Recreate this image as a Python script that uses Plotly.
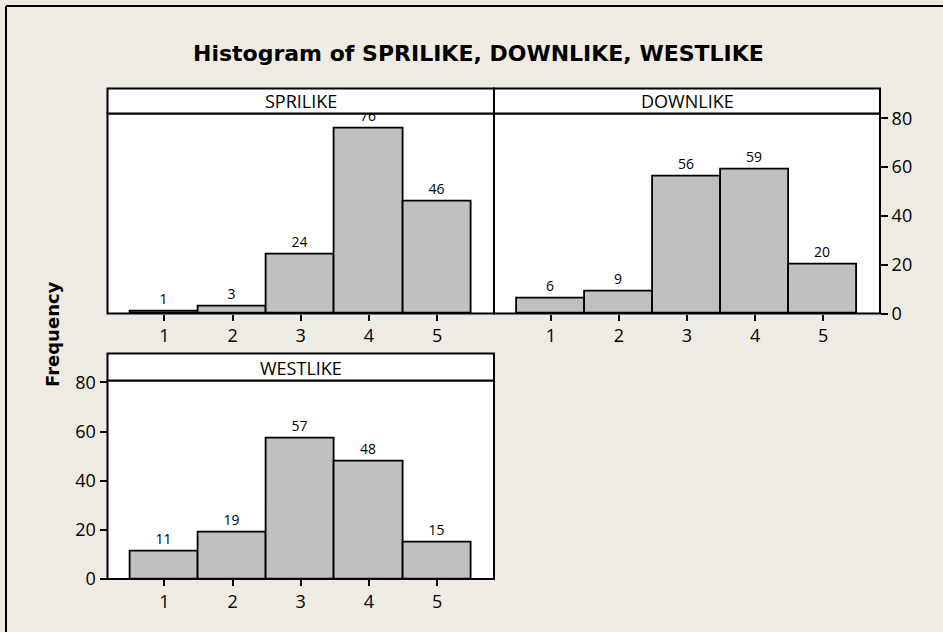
import plotly.graph_objects as go

# Histogram counts per response level
categories = [1, 2, 3, 4, 5]
sprilike = [1, 3, 24, 76, 46]
downlike = [6, 9, 56, 59, 20]
westlike = [11, 19, 57, 48, 15]
y_ticks = [0, 20, 40, 60, 80]
panel_names = ["SPRILIKE", "DOWNLIKE", "WESTLIKE"]
title_text = "Histogram of SPRILIKE, DOWNLIKE, WESTLIKE"
y_title = "Frequency"

W, H = 943, 632
BG = "#EFEBE2"
BAR = "#C0C0C0"
TICK_FONT = dict(family="Open Sans", size=18, color="#000000")


def px(x):
    return x / W


def py(y):
    return 1 - y / H


# panel geometry in pixels: (left, right, plot_top, plot_bottom, strip_top)
panels = [
    (107.5, 494, 113.5, 313.5, 88.5),
    (494, 880, 113.5, 313.5, 88.5),
    (107.5, 494, 380.5, 579, 353.5),
]
series = [sprilike, downlike, westlike]
y_tops = [82, 82, 80.8]

fig = go.Figure()
for i, vals in enumerate(series):
    n = "" if i == 0 else str(i + 1)
    fig.add_trace(go.Bar(
        x=categories, y=vals, width=1,
        marker=dict(color=BAR, line=dict(color="#000000", width=1.8)),
        text=vals, textposition="outside", cliponaxis=False,
        textfont=dict(family="Open Sans", size=14, color="#000000"),
        xaxis="x" + n, yaxis="y" + n, showlegend=False,
    ))

layout = dict(
    template="none",
    width=W, height=H, autosize=False,
    margin=dict(l=0, r=0, t=0, b=0, pad=0, autoexpand=False),
    paper_bgcolor=BG, plot_bgcolor="#FFFFFF",
    bargap=0, showlegend=False,
    shapes=[], annotations=[],
)

for i, (l, r, pt, pb, st) in enumerate(panels):
    n = "" if i == 0 else str(i + 1)
    layout["xaxis" + n] = dict(
        domain=[px(l), px(r)], range=[0.165, 5.835], anchor="y" + n,
        tickvals=categories, ticks="outside", ticklen=6, tickwidth=1.5,
        tickcolor="#000000", tickfont=TICK_FONT, automargin=False,
        showline=False, showgrid=False, zeroline=False, fixedrange=True,
    )
    ya = dict(
        domain=[py(pb), py(pt)], range=[0, y_tops[i]], anchor="x" + n,
        tickvals=y_ticks, tickfont=TICK_FONT, tickcolor="#000000",
        automargin=False,
        showline=False, showgrid=False, zeroline=False, fixedrange=True,
    )
    if i == 0:
        ya.update(showticklabels=False, ticks="")
    elif i == 1:
        ya.update(side="right", ticks="outside", ticklen=7, tickwidth=1.5)
    else:
        ya.update(side="left", ticks="outside", ticklen=7, tickwidth=1.5)
    layout["yaxis" + n] = ya

    # panel frame
    layout["shapes"].append(dict(
        type="rect", xref="paper", yref="paper",
        x0=px(l), x1=px(r), y0=py(pb), y1=py(pt),
        fillcolor="rgba(0,0,0,0)", line=dict(color="#000000", width=2),
        layer="above",
    ))
    # strip header
    layout["shapes"].append(dict(
        type="rect", xref="paper", yref="paper",
        x0=px(l), x1=px(r), y0=py(pt), y1=py(st),
        fillcolor="#FFFFFF", line=dict(color="#000000", width=2), layer="above",
    ))
    layout["annotations"].append(dict(
        text=panel_names[i], xref="paper", yref="paper",
        x=px((l + r) / 2), y=py((pt + st) / 2 + 0.5),
        xanchor="center", yanchor="middle", showarrow=False,
        font=dict(family="Open Sans", size=18, color="#000000"),
    ))

# outer frame (top and left edges)
layout["shapes"].append(dict(
    type="line", xref="paper", yref="paper",
    x0=px(6), x1=px(943), y0=py(6), y1=py(6),
    line=dict(color="#000000", width=2),
))
layout["shapes"].append(dict(
    type="line", xref="paper", yref="paper",
    x0=px(6), x1=px(6), y0=py(6), y1=py(632),
    line=dict(color="#000000", width=2),
))

layout["annotations"].append(dict(
    text="<b>" + title_text + "</b>", xref="paper", yref="paper",
    x=px(478.5), y=py(53), xanchor="center", yanchor="middle", showarrow=False,
    font=dict(family="DejaVu Sans", size=22, color="#000000"),
))
layout["annotations"].append(dict(
    text="<b>" + y_title + "</b>", xref="paper", yref="paper",
    x=px(52), y=py(334), xanchor="center", yanchor="middle", showarrow=False,
    textangle=-90,
    font=dict(family="DejaVu Sans", size=18, color="#000000"),
))

fig.update_layout(**layout)
fig.write_html("out.html")
